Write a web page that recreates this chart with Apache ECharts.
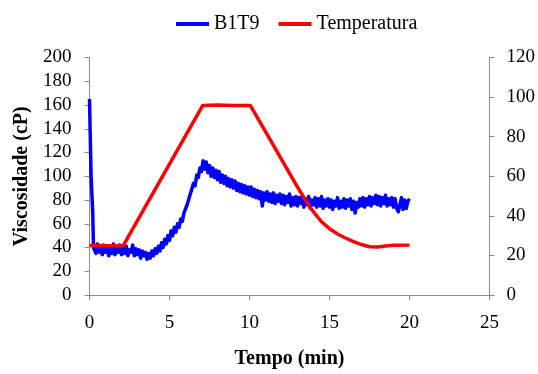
<!DOCTYPE html>
<html>
<head>
<meta charset="utf-8">
<script src="https://cdn.jsdelivr.net/npm/echarts@6/dist/echarts.min.js"></script>
<style>
  html, body { margin: 0; padding: 0; background: #fff; }
  #chart { width: 538px; height: 374px; }
</style>
</head>
<body>
<div id="chart"></div>
<script>
// Viscosity (cP) of sample B1T9 — initial spike before the regular samples
const spikeTimes = [0, 0.05, 0.1, 0.15, 0.2, 0.25];
const spikeVisc  = [165, 132, 100, 99, 70, 40];

// Regular viscosity samples every 0.1 min from 0.3 to 20.0 min
const sampleStart = 0.3;
const sampleStep = 0.1;
const viscSamples = [
  40, 35, 43, 36, 41, 34, 42,
  36, 41, 33, 40, 35, 43, 34, 39, 36, 42,
  34, 40, 35, 41, 33, 38, 36, 42, 33, 39,
  34, 38, 31, 37, 33, 36, 30, 35, 31, 37,
  33, 39, 35, 41, 37, 44, 40, 47, 43, 50,
  46, 54, 50, 57, 53, 60, 57, 64, 62, 69,
  68, 76, 75, 85, 84, 94, 92, 101, 99, 107,
  104, 113, 106, 112, 103, 109, 100, 107, 99, 105,
  97, 104, 95, 101, 94, 100, 92, 98, 91, 97,
  90, 96, 88, 94, 87, 93, 86, 92, 85, 91,
  84, 91, 83, 89, 82, 88, 81, 87, 75, 86,
  80, 87, 79, 85, 78, 86, 77, 84, 79, 85,
  77, 84, 76, 83, 78, 85, 75, 82, 76, 83,
  75, 82, 77, 84, 74, 81, 76, 83, 73, 80,
  76, 82, 74, 81, 75, 83, 73, 80, 75, 81,
  74, 80, 72, 79, 75, 82, 73, 79, 74, 81,
  73, 80, 75, 81, 72, 79, 69, 78, 74, 81,
  75, 82, 74, 81, 76, 83, 75, 82, 77, 84,
  76, 83, 75, 82, 77, 84, 75, 81, 76, 82,
  74, 81, 73, 70, 76, 82, 72, 80, 73, 79,
  81
];

// Temperature profile (°C)
const tempTimes = [0, 2.1, 7.07, 8, 9, 10.05, 11, 12, 13, 13.8, 14.5, 15, 15.5, 16, 16.5, 17, 17.5, 18, 18.5, 19, 20];
const tempVals  = [25, 24.8, 95.7, 96, 95.8, 95.8, 82.5, 68.5, 54.5, 44, 37, 33.5, 30.8, 28.8, 27, 25.5, 24.4, 24.3, 24.8, 25.1, 25.2];

// Axis ticks
const xTicks = [0, 5, 10, 15, 20, 25];
const viscTicks = [0, 20, 40, 60, 80, 100, 120, 140, 160, 180, 200];
const tempTicks = [0, 20, 40, 60, 80, 100, 120];

const viscData = spikeTimes.map((t, i) => [t, spikeVisc[i]]);
viscSamples.forEach((v, i) => {
  viscData.push([+(sampleStart + i * sampleStep).toFixed(2), v]);
});
const tempData = tempTimes.map((t, i) => [t, tempVals[i]]);

const font = '"Liberation Serif", "Times New Roman", serif';
const axisGrey = '#8c8c8c';
const tickFont = { fontFamily: font, fontSize: 19, color: '#000' };
const titleFont = { fontFamily: font, fontSize: 20, fontWeight: 'bold', color: '#000' };

const chart = echarts.init(document.getElementById('chart'), null, { renderer: 'canvas' });
chart.setOption({
  animation: false,
  backgroundColor: '#ffffff',
  legend: {
    top: 9,
    left: 171,
    icon: 'rect',
    itemWidth: 33,
    itemHeight: 4,
    itemGap: 19,
    textStyle: { fontFamily: font, fontSize: 20, color: '#000' },
    data: ['B1T9', 'Temperatura']
  },
  grid: { left: 89.5, right: 48.5, top: 57.5, bottom: 79 },
  xAxis: {
    type: 'value',
    min: xTicks[0],
    max: xTicks[xTicks.length - 1],
    interval: 5,
    name: 'Tempo (min)',
    nameLocation: 'middle',
    nameGap: 54,
    nameTextStyle: titleFont,
    axisLine: { lineStyle: { color: axisGrey, width: 1 } },
    axisTick: { show: true, length: 5, inside: false, lineStyle: { color: axisGrey } },
    axisLabel: Object.assign({ margin: 19 }, tickFont),
    splitLine: { show: false }
  },
  yAxis: [
    {
      type: 'value',
      min: viscTicks[0],
      max: viscTicks[viscTicks.length - 1],
      interval: 20,
      name: 'Viscosidade (cP)',
      nameLocation: 'middle',
      nameGap: 58,
      nameTextStyle: titleFont,
      axisLine: { show: true, lineStyle: { color: axisGrey, width: 1 } },
      axisTick: { show: true, length: 5, lineStyle: { color: axisGrey } },
      axisLabel: Object.assign({ margin: 18 }, tickFont),
      splitLine: { show: false }
    },
    {
      type: 'value',
      min: tempTicks[0],
      max: tempTicks[tempTicks.length - 1],
      interval: 20,
      position: 'right',
      axisLine: { show: true, lineStyle: { color: axisGrey, width: 1 } },
      axisTick: { show: true, length: 5, lineStyle: { color: axisGrey } },
      axisLabel: Object.assign({ margin: 17 }, tickFont),
      splitLine: { show: false }
    }
  ],
  series: [
    {
      name: 'B1T9',
      type: 'line',
      yAxisIndex: 0,
      data: viscData,
      showSymbol: false,
      symbol: 'none',
      lineStyle: { color: '#0000ff', width: 3.5, join: 'round' },
      itemStyle: { color: '#0000ff' },
      z: 2
    },
    {
      name: 'Temperatura',
      type: 'line',
      yAxisIndex: 1,
      data: tempData,
      showSymbol: false,
      symbol: 'none',
      lineStyle: { color: '#ff0000', width: 3.5, join: 'round' },
      itemStyle: { color: '#ff0000' },
      z: 3
    }
  ]
});
</script>
</body>
</html>
